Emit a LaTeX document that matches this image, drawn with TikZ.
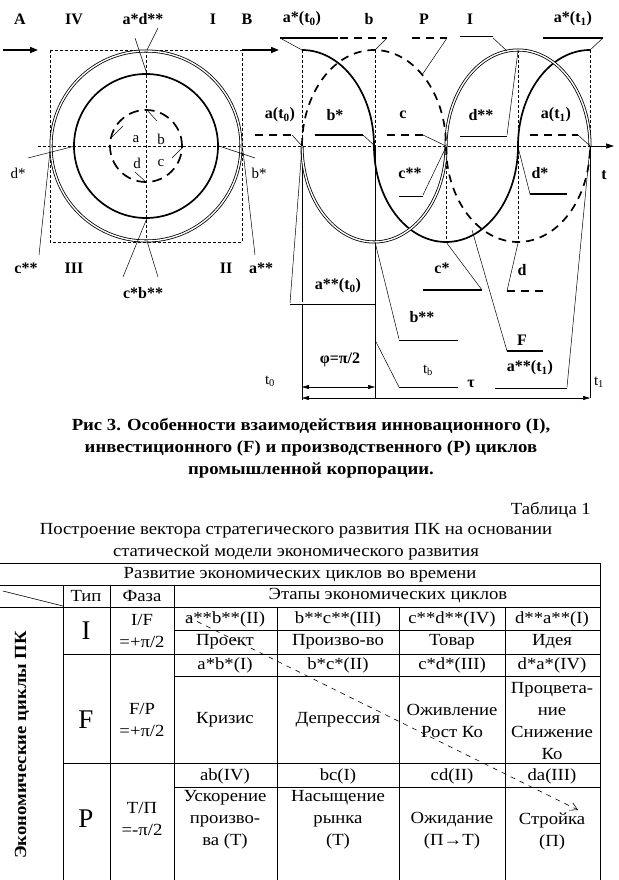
\documentclass[tikz,border=0pt]{standalone}
\usepackage{fontspec}
\setmainfont{Liberation Serif}
\newfontfamily\wide[FakeStretch=1.1]{Liberation Serif}
\usetikzlibrary{arrows.meta}
\begin{document}
\begin{tikzpicture}[x=1pt,y=-1pt,
 lb/.style={font=\bfseries\fontsize{16}{16}\selectfont, inner sep=0pt},
 ln/.style={font=\fontsize{15}{16}\selectfont, inner sep=0pt},
 tx/.style={font=\wide\fontsize{17}{22}\selectfont, inner sep=0pt, align=center},
 big/.style={font=\fontsize{27}{27}\selectfont, inner sep=0pt},
 leader/.style={line width=0.5pt},
 thk/.style={line width=1.7pt},
 dsh/.style={line width=1.7pt, dash pattern=on 8pt off 6pt},
 dbl/.style={double, double distance=1.4pt, line width=0.8pt},
 fine/.style={line width=0.5pt, dash pattern=on 3pt off 2pt},
 grid/.style={line width=0.6pt},
 tri/.style={-{Triangle[length=8pt,width=6pt]}},
 dim/.style={line width=0.5pt,{Triangle[length=7pt,width=4pt]}-{Triangle[length=7pt,width=4pt]}}
]
\useasboundingbox (0,0) rectangle (618,880);

% ---------- left panel ----------
\coordinate (O) at (146,146);
\draw[fine] (50,50) rectangle (242,242);
\draw[fine] (146,50) -- (146,242);
\draw[fine] (38,146) -- (590,146);
\draw[dbl] (O) circle[radius=95pt];
\draw[thk] (O) circle[radius=72pt];
\draw[line width=1.7pt, dash pattern=on 10pt off 6pt] (O) circle[radius=36pt];

\coordinate (A1) at (3,50);  \coordinate (A2) at (38,50);
\coordinate (B1) at (242,50); \coordinate (B2) at (279,50);
\draw[line width=1.5pt,tri] (A1) -- (A2);
\draw[line width=1.5pt,tri] (B1) -- (B2);

\node[lb] (lA) at (20,19) {A};
\node[lb] (lIV) at (74,19) {IV};
\node[lb] (lad) at (143,19) {a*d**};
\node[lb] (lI) at (213,19) {I};
\node[lb] (lB) at (247,19) {B};
\node[ln] (ldst) at (18,173) {d*};
\node[ln] (lbst) at (259,173) {b*};
\node[lb] (lcss) at (26,268) {c**};
\node[lb] (lIII) at (74,268) {III};
\node[lb] (lII) at (226,268) {II};
\node[lb] (lass) at (261,268) {a**};
\node[lb] (lcb) at (143,293) {c*b**};
\node[ln] (la) at (136,139) {a};
\node[ln] (lb2) at (161,139) {b};
\node[ln] (ld) at (137,163) {d};
\node[ln] (lc) at (161,163) {c};

\draw[leader] (158,28) -- (147,50);
\draw[leader] (135,38) -- (147,74);
\draw[leader] (28,158) -- (75,146);
\draw[leader] (255,158) -- (219,146);
\draw[leader] (39,255) -- (50,151);
\draw[leader] (255,255) -- (243,151);
\draw[leader] (123,277) -- (147,218);
\draw[leader] (158,277) -- (147,241);
\draw[leader] (147,110) -- (157,121);
\draw[leader] (112,137) -- (123,126);
\draw[leader] (183,147) -- (172,158);
\draw[leader] (146,182) -- (135,172);

% ---------- right panel ----------
\draw[line width=0.6pt,-{Triangle[length=8pt,width=5pt]}] (590,146) -- (614,146);
\foreach \xx in {302,375,518,590} \draw[fine] (\xx,50) -- (\xx,146);
\foreach \xx in {446,518} \draw[fine] (\xx,146) -- (\xx,242);
\draw[leader] (302,146) -- (302,400);
\draw[leader] (375,146) -- (375,398);
\draw[leader] (590,146) -- (590,398);

% F (solid thick)
\draw[thk] (302,50) arc[start angle=90,end angle=0,x radius=72pt,y radius=96pt]
  arc[start angle=180,end angle=360,x radius=72pt,y radius=96pt]
  arc[start angle=180,end angle=90,x radius=72pt,y radius=96pt];
% I (double)
\draw[dbl] (302,146) arc[start angle=180,end angle=360,x radius=72pt,y radius=96pt]
  arc[start angle=180,end angle=0,x radius=72pt,y radius=96pt];
% P (dashed)
\draw[dsh] (302,146) arc[start angle=180,end angle=0,x radius=72pt,y radius=96pt]
  arc[start angle=180,end angle=360,x radius=72pt,y radius=96pt];

% top labels
\node[lb] (tat0) at (302,19) {a*(t\textsubscript{0})};
\node[lb] (tb) at (369,19) {b};
\node[lb] (tP) at (424,19) {P};
\node[lb] (tI) at (470,19) {I};
\node[lb] (tat1) at (573,19) {a*(t\textsubscript{1})};
\draw[thk] (280,38) -- (338,38); \draw[leader] (280,38) -- (302,50);
\draw[dsh] (340,38) -- (387,38); \draw[leader] (387,38) -- (375,50);
\draw[dsh] (412,38) -- (447,38); \draw[leader] (447,38) -- (422,75);
\draw[dbl] (460,38) -- (493,38); \draw[leader] (493,38) -- (507,51);
\draw[thk] (543,38) -- (603,38); \draw[leader] (603,38) -- (590,50);

% middle labels
\node[lb] (ma0) at (280,115) {a(t\textsubscript{0})};
\node[lb] (mbs) at (335,115) {b*};
\node[lb] (mc) at (403,115) {c};
\node[lb] (mdss) at (481,115) {d**};
\node[lb] (ma1) at (556,115) {a(t\textsubscript{1})};
\draw[dsh] (255,135) -- (292,135); \draw[leader] (292,135) -- (302,146);
\draw[thk] (315,135) -- (363,135); \draw[leader] (363,135) -- (375,146);
\draw[dsh] (387,135) -- (423,135); \draw[leader] (423,135) -- (446,146);
\draw[dbl] (460,135) -- (507,135); \draw[leader] (507,135) -- (518,51);
\draw[dsh] (530,135) -- (578,135); \draw[leader] (578,135) -- (590,146);

% lower labels
\node[lb] (lt) at (604,175) {t};
\node[lb] (bcss) at (410,173) {c**};
\node[lb] (bds) at (540,173) {d*};
\node[lb] (bcs) at (442,268) {c*};
\node[lb] (bd) at (522,270) {d};
\node[lb] (baa0) at (338,286) {a**(t\textsubscript{0})};
\node[lb] (bbss) at (422,317) {b**};
\node[lb] (bF) at (522,340) {F};
\node[lb] (bphi) at (340,360) {φ=π/2};
\node[ln] (btb) at (428,370) {t\textsubscript{b}};
\node[lb] (btau) at (471,384) {τ};
\node[lb] (baa1) at (530,368) {a**(t\textsubscript{1})};
\node[ln] (bt0) at (270,381) {t\textsubscript{0}};
\node[ln] (bt1) at (599,382) {t\textsubscript{1}};

\draw[dbl] (399,195) -- (423,195); \draw[leader] (423,195) -- (446,147);
\draw[thk] (530,194) -- (567,194); \draw[leader] (530,194) -- (518,147);
\draw[thk] (423,290) -- (482,290); \draw[leader] (482,290) -- (446,242);
\draw[dsh] (507,291) -- (543,291); \draw[leader] (507,291) -- (518,243);
\draw[thk] (507,351) -- (543,351); \draw[leader] (507,351) -- (472,230);
\draw[dbl] (290,303) -- (375,303); \draw[leader] (290,303) -- (302,147);
\draw[dbl] (399,339) -- (458,339); \draw[leader] (399,339) -- (375,242);
\draw[leader] (399,387) -- (458,387); \draw[leader] (399,387) -- (375,340);
\draw[dbl] (495,387) -- (567,387); \draw[leader] (567,387) -- (590,147);

\draw[dim] (302,387) -- (375,387);
\draw[dim] (302,398) -- (590,398);

% ---------- caption ----------
\node[font=\wide\bfseries\fontsize{17}{22}\selectfont, align=center, inner sep=0pt] (cap) at (311,448)
 {Рис 3. Особенности взаимодействия инновационного (I),\\
  инвестиционного (F) и производственного (P) циклов\\
  промышленной корпорации.};

% ---------- table ----------
\node[tx, anchor=east] (tnum) at (591,510) {Таблица 1};
\node[tx] (ttl) at (296,542) {Построение вектора стратегического развития ПК на основании\\статической модели экономического развития};

\draw[grid] (0,563) -- (600,563);
\draw[grid] (0,585) -- (600,585);
\draw[grid] (0,607) -- (600,607);
\draw[grid] (174,630) -- (600,630);
\draw[grid] (63,654) -- (600,654);
\draw[grid] (174,676) -- (600,676);
\draw[grid] (63,763) -- (600,763);
\draw[grid] (174,787) -- (600,787);
\draw[grid] (600,563) -- (600,880);
\foreach \xx in {63,110,174} \draw[grid] (\xx,585) -- (\xx,880);
\foreach \xx in {277,399,505} \draw[grid] (\xx,607) -- (\xx,880);
\draw[grid] (3,591) -- (63,606);

\node[tx] (h1) at (300,575) {Развитие экономических циклов во времени};
\node[tx] (h2) at (86,596) {Тип};
\node[tx] (h3) at (142,596) {Фаза};
\node[tx] (h4) at (388,596) {Этапы экономических циклов};

\node[big] (rI) at (86,631) {I};
\node[tx] (rI2) at (142,631) {I/F\\=+π/2};
\node[tx] (c11) at (225,619) {a**b**(II)};
\node[tx] (c12) at (338,619) {b**c**(III)};
\node[tx] (c13) at (452,619) {c**d**(IV)};
\node[tx] (c14) at (552,619) {d**a**(I)};
\node[tx] (d11) at (225,642) {Проект};
\node[tx] (d12) at (338,642) {Произво-во};
\node[tx] (d13) at (452,642) {Товар};
\node[tx] (d14) at (552,642) {Идея};

\node[big] (rF) at (86,720) {F};
\node[tx] (rF2) at (142,720) {F/P\\=+π/2};
\node[tx] (c21) at (225,665) {a*b*(I)};
\node[tx] (c22) at (338,665) {b*c*(II)};
\node[tx] (c23) at (452,665) {c*d*(III)};
\node[tx] (c24) at (552,665) {d*a*(IV)};
\node[tx] (d21) at (225,720) {Кризис};
\node[tx] (d22) at (338,720) {Депрессия};
\node[tx] (d23) at (452,721) {Оживление\\Рост Ко};
\node[tx] (d24) at (552,721) {Процвета-\\ние\\Снижение\\Ко};

\node[big] (rP) at (86,819) {P};
\node[tx] (rP2) at (142,819) {Т/П\\=-π/2};
\node[tx] (c31) at (225,776) {ab(IV)};
\node[tx] (c32) at (338,776) {bc(I)};
\node[tx] (c33) at (452,776) {cd(II)};
\node[tx] (c34) at (552,776) {da(III)};
\node[tx] (d31) at (225,820) {Ускорение\\произво-\\ва (Т)};
\node[tx] (d32) at (338,820) {Насыщение\\рынка\\(Т)};
\node[tx] (d33) at (452,831) {Ожидание\\(П→Т)};
\node[tx] (d34) at (552,831) {Стройка\\(П)};

\node[tx, font=\wide\bfseries\fontsize{17}{17}\selectfont, rotate=90] (side) at (22,745) {Экономические циклы ПК};

\coordinate (vs) at (188,617);
\coordinate (ve) at (578,810);
\draw[line width=0.6pt, dash pattern=on 5pt off 5pt, -{Straight Barb[length=7pt,width=8pt]}] (vs) -- (ve);
\end{tikzpicture}
\end{document}
